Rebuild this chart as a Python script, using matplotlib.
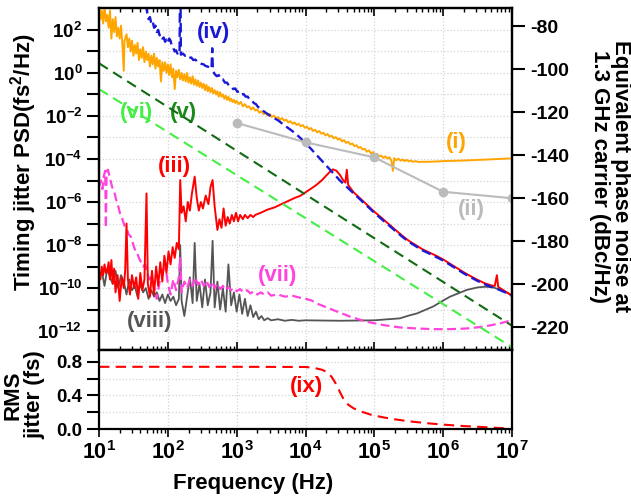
import numpy as np
import matplotlib
matplotlib.use('Agg')
import matplotlib.pyplot as plt
from matplotlib.ticker import FixedLocator, FuncFormatter, NullFormatter, LogLocator

plt.rcParams['font.family'] = 'Liberation Sans'
plt.rcParams['font.weight'] = 'bold'
plt.rcParams['mathtext.fontset'] = 'custom'
plt.rcParams['mathtext.rm'] = 'Liberation Sans:bold'
plt.rcParams['mathtext.it'] = 'Liberation Sans:bold'
plt.rcParams['mathtext.bf'] = 'Liberation Sans:bold'
plt.rcParams['axes.linewidth'] = 1.6
plt.rcParams['axes.unicode_minus'] = False

# timing jitter PSD (fs^2/Hz) -> phase noise (dBc/Hz) of a 1.3 GHz carrier
CARRIER = 1.3e9
DBC_OFFSET = 10 * np.log10((2 * np.pi * CARRIER * 1e-15) ** 2)

# traces as (log10 f, log10 PSD)
orange = [(1.00, 3.2), (1.02, 2.5), (1.04, 2.9), (1.06, 2.3), (1.08, 3.1), (1.10, 2.4), (1.12, 2.7),
          (1.14, 2.1), (1.16, 2.9), (1.18, 1.6), (1.20, 2.5), (1.22, 1.9), (1.24, 2.6), (1.26, 1.7),
          (1.28, 2.1), (1.30, 1.6), (1.32, 2.2), (1.34, 1.3), (1.36, 0.1), (1.37, 1.5), (1.40, 1.8),
          (1.42, 1.2), (1.44, 1.6), (1.46, 1.0), (1.48, 1.5), (1.50, 0.8), (1.52, 1.3), (1.54, 0.9),
          (1.56, 1.4), (1.58, 0.6), (1.60, 1.1), (1.62, 0.7), (1.64, 1.2), (1.66, 0.5), (1.68, 1.0),
          (1.70, 0.6), (1.72, 0.9), (1.74, 0.3), (1.76, 0.8), (1.78, 0.4), (1.80, 0.9), (1.82, 0.2),
          (1.84, 0.7), (1.86, 0.3), (1.88, 0.6), (1.90, -0.4), (1.92, 0.5), (1.94, 0.1), (1.96, 0.5),
          (1.98, 0.0), (2.00, 0.4), (2.02, -0.1), (2.04, 0.4), (2.06, -0.2), (2.08, 0.2), (2.10, -0.75),
          (2.12, 0.1), (2.14, -0.2), (2.16, 0.15), (2.18, -0.3), (2.20, 0.0), (2.22, -0.35), (2.24, -0.05),
          (2.26, -0.4), (2.28, 0.0), (2.30, -0.45), (2.32, -0.2), (2.34, -0.5), (2.36, -0.15), (2.38, -0.55),
          (2.40, -0.3), (2.42, -0.6), (2.44, -0.35), (2.46, -0.65), (2.48, -0.45), (2.50, -0.7), (2.52, -0.5),
          (2.54, -0.8), (2.56, -0.55), (2.58, -0.85), (2.60, -0.65), (2.62, -0.9), (2.64, -0.7), (2.66, -0.95),
          (2.68, -0.8), (2.70, -1.0), (2.72, -0.85), (2.74, -1.1), (2.76, -0.9), (2.78, -1.1), (2.80, -1.0),
          (2.82, -1.2), (2.84, -1.05), (2.86, -1.25), (2.88, -1.1), (2.90, -1.3), (2.92, -1.2), (2.94, -1.35),
          (2.96, -1.25), (2.98, -1.4), (3.00, -1.3), (3.03, -1.45), (3.06, -1.35), (3.09, -1.55), (3.12, -1.45),
          (3.15, -1.6), (3.18, -1.55), (3.21, -1.7), (3.24, -1.6), (3.27, -1.75), (3.30, -1.7), (3.33, -1.85),
          (3.36, -1.78), (3.39, -1.92), (3.42, -1.85), (3.45, -1.98), (3.48, -1.9), (3.51, -2.05), (3.54, -1.98),
          (3.57, -2.1), (3.60, -2.05), (3.63, -2.18), (3.66, -2.1), (3.69, -2.22), (3.72, -2.17), (3.75, -2.3),
          (3.78, -2.24), (3.81, -2.36), (3.84, -2.3), (3.87, -2.42), (3.90, -2.36), (3.93, -2.48), (3.96, -2.42),
          (3.99, -2.55), (4.02, -2.5), (4.05, -2.62), (4.08, -2.56), (4.11, -2.7), (4.14, -2.64), (4.17, -2.76),
          (4.20, -2.7), (4.23, -2.82), (4.26, -2.78), (4.29, -2.9), (4.32, -2.84), (4.35, -2.96), (4.38, -2.92),
          (4.41, -3.04), (4.44, -2.98), (4.47, -3.1), (4.50, -3.05), (4.53, -3.18), (4.56, -3.12), (4.59, -3.25),
          (4.62, -3.2), (4.65, -3.32), (4.68, -3.28), (4.71, -3.4), (4.74, -3.36), (4.77, -3.48), (4.80, -3.44),
          (4.83, -3.56), (4.86, -3.52), (4.89, -3.66), (4.92, -3.6), (4.95, -3.74), (4.98, -3.68), (5.01, -3.8),
          (5.04, -3.76), (5.07, -3.88), (5.10, -3.84), (5.13, -3.95), (5.16, -3.88), (5.19, -3.98), (5.22, -3.92),
          (5.25, -4.1), (5.27, -4.55), (5.29, -3.96), (5.32, -4.06), (5.35, -3.98), (5.38, -4.08), (5.41, -4.02),
          (5.44, -4.1), (5.47, -4.04), (5.50, -4.11), (5.53, -4.07), (5.56, -4.13), (5.60, -4.1), (5.65, -4.14),
          (5.70, -4.13), (5.80, -4.13), (6.00, -4.1), (6.30, -4.07), (6.60, -4.03), (7.00, -3.97)]

blue = [(1.68, 3.2), (1.70, 2.8), (1.72, 2.5), (1.74, 2.6), (1.76, 2.3), (1.78, 2.4), (1.80, 2.1), (1.82, 2.2),
        (1.84, 1.9), (1.86, 2.0), (1.88, 1.75), (1.90, 1.8), (1.92, 1.6), (1.94, 1.65), (1.96, 1.45),
        (1.98, 1.55), (2.00, 1.4), (2.02, 1.6), (2.04, 1.5), (2.06, 1.2), (2.08, 1.15), (2.10, 1.0),
        (2.12, 1.05), (2.14, 0.9), (2.16, 0.95), (2.17, 0.9), (2.175, 3.3), (2.185, 3.3), (2.19, 0.85),
        (2.22, 0.9), (2.25, 0.8), (2.28, 0.82), (2.31, 0.7), (2.34, 0.72), (2.37, 0.6), (2.40, 0.62),
        (2.43, 0.52), (2.46, 0.5), (2.49, 0.42), (2.52, 0.4), (2.55, 0.32), (2.58, 0.3), (2.61, 0.22),
        (2.635, 0.2), (2.645, 1.15), (2.655, 0.1), (2.68, -0.05), (2.71, -0.15), (2.74, -0.1), (2.77, -0.3),
        (2.80, -0.3), (2.83, -0.45), (2.86, -0.45), (2.89, -0.6), (2.92, -0.62), (2.95, -0.75), (2.98, -0.72),
        (3.01, -0.88), (3.04, -0.85), (3.07, -1.0), (3.10, -0.98), (3.13, -1.1), (3.16, -1.1), (3.19, -1.25),
        (3.22, -1.28), (3.25, -1.4), (3.28, -1.45), (3.31, -1.58), (3.34, -1.62), (3.37, -1.72), (3.40, -1.8),
        (3.5, -2.02), (3.6, -2.2), (3.7, -2.45), (3.8, -2.68), (3.9, -2.95), (4.0, -3.25), (4.1, -3.6),
        (4.2, -3.95), (4.3, -4.3), (4.4, -4.65), (4.5, -5.0), (4.6, -5.3), (4.7, -5.6), (4.8, -5.9),
        (4.9, -6.2), (5.0, -6.5), (5.1, -6.78), (5.2, -7.05), (5.3, -7.33), (5.4, -7.6), (5.5, -7.85),
        (5.6, -8.05), (5.7, -8.25), (5.8, -8.4), (5.9, -8.56), (6.0, -8.72), (6.1, -8.92), (6.2, -9.12),
        (6.3, -9.32), (6.4, -9.5), (6.5, -9.67), (6.6, -9.82), (6.7, -9.95), (6.8, -10.06), (6.9, -10.2),
        (7.0, -10.36)]

red = [(1.00, -9.3), (1.02, -9.6), (1.04, -9.0), (1.06, -9.4), (1.08, -8.9), (1.10, -9.3), (1.12, -9.2),
       (1.14, -8.8), (1.16, -9.6), (1.18, -8.7), (1.20, -9.8), (1.22, -9.1), (1.24, -10.2), (1.27, -9.4),
       (1.30, -10.6), (1.33, -9.5), (1.36, -10.0), (1.38, -9.2), (1.40, -7.0), (1.42, -9.6), (1.45, -10.3),
       (1.48, -9.4), (1.51, -10.0), (1.54, -9.5), (1.57, -10.5), (1.60, -9.3), (1.63, -10.1), (1.66, -9.6),
       (1.69, -5.6), (1.71, -9.8), (1.74, -10.4), (1.77, -9.2), (1.80, -10.3), (1.83, -9.0), (1.86, -9.9),
       (1.89, -8.8), (1.92, -9.7), (1.95, -8.5), (1.98, -9.3), (2.01, -8.3), (2.04, -8.9), (2.07, -8.1),
       (2.10, -8.6), (2.13, -7.9), (2.16, -8.2), (2.18, -4.98), (2.20, -6.5), (2.23, -6.2), (2.26, -6.9),
       (2.29, -6.0), (2.32, -6.4), (2.35, -5.6), (2.39, -4.82), (2.42, -5.8), (2.45, -6.4), (2.48, -6.0),
       (2.51, -6.3), (2.55, -5.7), (2.59, -6.1), (2.62, -5.3), (2.65, -4.98), (2.68, -6.2), (2.72, -7.3),
       (2.75, -6.8), (2.78, -7.2), (2.81, -6.3), (2.84, -7.1), (2.87, -6.7), (2.90, -7.0), (2.93, -6.6),
       (2.96, -6.9), (2.99, -6.5), (3.02, -6.9), (3.05, -6.6), (3.09, -6.8), (3.12, -6.6), (3.16, -6.75),
       (3.20, -6.6), (3.24, -6.7), (3.27, -6.6), (3.35, -6.5), (3.45, -6.35), (3.55, -6.25), (3.65, -6.1),
       (3.75, -5.95), (3.85, -5.8), (3.92, -5.72), (4.00, -5.55), (4.08, -5.38), (4.16, -5.2), (4.24, -4.98),
       (4.31, -4.74), (4.36, -4.58), (4.40, -4.48), (4.45, -4.55), (4.50, -4.74), (4.55, -5.0), (4.58, -5.1),
       (4.60, -4.5), (4.62, -5.2), (4.66, -5.38), (4.70, -5.55), (4.8, -5.85), (4.9, -6.15), (5.0, -6.45),
       (5.1, -6.72), (5.2, -7.0), (5.3, -7.28), (5.4, -7.55), (5.5, -7.8), (5.6, -8.0), (5.7, -8.2),
       (5.8, -8.35), (5.9, -8.5), (6.0, -8.67), (6.1, -8.87), (6.2, -9.07), (6.3, -9.27), (6.4, -9.45),
       (6.5, -9.62), (6.6, -9.77), (6.7, -9.88), (6.75, -9.9), (6.78, -9.4), (6.80, -9.95), (6.9, -10.15),
       (7.0, -10.36)]

magenta = [(1.00, -5.3), (1.03, -5.0), (1.05, -5.4), (1.07, -4.8), (1.09, -4.55), (1.10, -7.2), (1.11, -4.6),
           (1.13, -4.5), (1.16, -4.9), (1.19, -5.3), (1.22, -5.5), (1.25, -5.9), (1.28, -6.2), (1.31, -6.6),
           (1.34, -6.8), (1.37, -7.1), (1.40, -7.2), (1.43, -7.5), (1.46, -7.6), (1.49, -7.9), (1.52, -8.2),
           (1.55, -8.3), (1.58, -8.6), (1.61, -8.8), (1.64, -9.0), (1.67, -8.9), (1.70, -9.3), (1.73, -9.6),
           (1.76, -9.5), (1.80, -10.0), (1.84, -10.5), (1.88, -9.7), (1.92, -9.4), (1.96, -8.8), (2.00, -9.8),
           (2.04, -10.3), (2.08, -9.6), (2.12, -10.1), (2.16, -9.5), (2.18, -8.6), (2.20, -10.2), (2.24, -9.7),
           (2.28, -10.0), (2.32, -9.6), (2.36, -9.9), (2.40, -9.5), (2.44, -9.85), (2.48, -9.6), (2.52, -9.9),
           (2.56, -9.65), (2.60, -9.95), (2.64, -9.7), (2.68, -10.0), (2.72, -9.8), (2.76, -10.05), (2.80, -9.9),
           (2.84, -10.1), (2.88, -9.95), (2.92, -10.1), (2.96, -10.0), (3.00, -10.15), (3.05, -10.05),
           (3.10, -10.2), (3.15, -10.1), (3.20, -10.25), (3.25, -10.15), (3.30, -10.3), (3.35, -10.2),
           (3.40, -10.3), (3.45, -10.2), (3.50, -10.35), (3.60, -10.3), (3.70, -10.4), (3.80, -10.35),
           (3.92, -10.45), (4.00, -10.5), (4.09, -10.58), (4.16, -10.71), (4.40, -11.02), (4.65, -11.33),
           (4.89, -11.57), (5.13, -11.72), (5.37, -11.83), (5.62, -11.88), (5.86, -11.91), (6.10, -11.91),
           (6.34, -11.88), (6.58, -11.80), (6.83, -11.64), (7.0, -11.49)]

darkgray = [(1.00, -9.6), (1.04, -9.2), (1.08, -9.9), (1.12, -9.1), (1.16, -9.5), (1.20, -9.8), (1.24, -9.2),
            (1.28, -10.0), (1.32, -9.4), (1.36, -9.7), (1.40, -10.3), (1.44, -9.6), (1.48, -10.1), (1.52, -9.9),
            (1.56, -10.4), (1.60, -9.8), (1.64, -10.2), (1.68, -10.0), (1.72, -10.5), (1.76, -10.1),
            (1.80, -10.4), (1.84, -10.2), (1.88, -10.6), (1.92, -10.3), (1.96, -10.7), (2.00, -10.3),
            (2.04, -10.6), (2.08, -10.4), (2.12, -10.8), (2.16, -10.5), (2.18, -8.0), (2.20, -10.6),
            (2.24, -11.3), (2.28, -10.4), (2.32, -9.5), (2.36, -10.7), (2.39, -7.9), (2.42, -10.6), (2.46, -9.8),
            (2.50, -10.9), (2.54, -9.6), (2.58, -10.8), (2.62, -10.2), (2.65, -7.8), (2.68, -10.9), (2.72, -9.7),
            (2.76, -11.0), (2.80, -10.0), (2.84, -11.1), (2.88, -8.9), (2.92, -10.8), (2.96, -10.2),
            (3.00, -11.1), (3.04, -10.3), (3.08, -11.2), (3.12, -10.5), (3.16, -11.3), (3.20, -10.8),
            (3.24, -11.35), (3.28, -11.1), (3.32, -11.45), (3.36, -11.3), (3.40, -11.5), (3.45, -11.4),
            (3.50, -11.5), (3.60, -11.45), (3.70, -11.52), (3.80, -11.48), (3.90, -11.52), (4.00, -11.5),
            (4.50, -11.52), (5.00, -11.5), (5.20, -11.45), (5.37, -11.41), (5.50, -11.28), (5.62, -11.18),
            (5.75, -11.0), (5.86, -10.85), (6.00, -10.58), (6.10, -10.40), (6.34, -10.09), (6.50, -9.97),
            (6.60, -9.94), (6.72, -9.96), (6.90, -10.17), (7.00, -10.33)]

# straight reference slopes (v) and (vi): end points at 10 Hz and 10 MHz
green_v = [(1.0, 0.45), (7.0, -11.75)]
green_vi = [(1.0, -0.75), (7.0, -12.75)]

# (ii) measured points, given in dBc/Hz
gray_f = [1e3, 1e4, 1e5, 1e6, 1e7]
gray_dbc = [-125, -134, -141, -157, -160]

# (ix) integrated RMS jitter (fs) vs log10 f
rms = [(1.0, 0.74), (2.0, 0.74), (3.0, 0.74), (4.0, 0.738), (4.12, 0.728), (4.24, 0.705), (4.32, 0.675),
       (4.38, 0.62), (4.44, 0.54), (4.50, 0.44), (4.55, 0.36), (4.62, 0.29), (4.70, 0.245), (4.82, 0.205),
       (4.95, 0.17), (5.12, 0.14), (5.3, 0.115), (5.5, 0.092), (5.75, 0.07), (6.0, 0.052), (6.3, 0.035),
       (6.6, 0.022), (6.85, 0.01), (7.0, 0.0)]

labels = [('(i)', 6.19, -3.21, '#ffa500'), ('(ii)', 6.41, -6.37, '#bbbbbb'), ('(iii)', 2.09, -4.36, '#ff0000'),
          ('(iv)', 2.66, 1.86, '#1a1ad6'), ('(v)', 2.22, -1.86, '#1a8a1a'), ('(vi)', 1.55, -1.86, '#44ee44'),
          ('(vii)', 3.59, -9.4, '#ff44dd'), ('(viii)', 1.74, -11.57, '#555555')]


def trace(points):
    lf, lp = np.array(points).T
    return 10 ** lf, 10 ** lp


LOGMIN, LOGMAX = -12.88, 3.02

fig = plt.figure(figsize=(6.31, 4.99), dpi=100)
ax = fig.add_axes([99 / 631, 1 - 350 / 499, 413 / 631, 342 / 499])
axb = fig.add_axes([99 / 631, 1 - 429 / 499, 413 / 631, 79 / 499], sharex=ax)
ax2 = ax.twinx()

ax.plot(*trace(darkgray), color='#555555', lw=1.3, zorder=3)
ax.plot(*trace(magenta), color='#ff44dd', lw=1.6, ls=(0, (4, 2)), zorder=3)
ax.plot(*trace(red), color='#ff0000', lw=1.4, zorder=4)
ax.plot(*trace(orange), color='#ffa500', lw=1.4, zorder=4)
ax.plot(*trace(blue), color='#1a1ad6', lw=1.7, ls=(0, (4, 2)), zorder=5)
ax.plot(*trace(green_v), color='#126b12', lw=1.5, ls=(0, (5, 3)), zorder=5)
ax.plot(*trace(green_vi), color='#44ee44', lw=1.5, ls=(0, (5, 3)), zorder=5)
gray_psd = 10 ** ((np.array(gray_dbc) - DBC_OFFSET) / 10)
ax.plot(gray_f, gray_psd, color='#bbbbbb', lw=1.5, marker='o', ms=6, zorder=5)

for txt, lf, lp, c in labels:
    ax.text(10 ** lf, 10 ** lp, txt, color=c, fontsize=16, fontweight='bold', ha='center', va='center')

ax.set_xscale('log')
ax.set_yscale('log')
ax.set_xlim(10, 1e7)
ax.set_ylim(10 ** LOGMIN, 10 ** LOGMAX)
ax.yaxis.set_major_locator(FixedLocator([10.0 ** e for e in range(-12, 3, 2)]))
ax.yaxis.set_minor_locator(FixedLocator([10.0 ** e for e in range(-11, 3, 2)]))
ax.yaxis.set_major_formatter(FuncFormatter(lambda v, p: r'$10^{%d}$' % round(np.log10(v))))
ax.yaxis.set_minor_formatter(NullFormatter())
ax.xaxis.set_major_locator(LogLocator(base=10, numticks=10))
ax.xaxis.set_minor_locator(LogLocator(base=10, subs=np.arange(2, 10), numticks=20))
ax.tick_params(axis='x', which='both', direction='in', top=True, labelbottom=False)
ax.tick_params(axis='x', which='major', length=6, width=1.2)
ax.tick_params(axis='x', which='minor', length=3, width=1)
ax.tick_params(axis='y', which='both', direction='out', length=9, width=1.5, labelsize=13.5, pad=3)
ax.grid(True, which='major', color='#d4d4d4', ls=':', lw=0.9)
ax.yaxis.grid(True, which='minor', color='#d4d4d4', ls=':', lw=0.9)

ax2.set_ylim(10 * LOGMIN + DBC_OFFSET, 10 * LOGMAX + DBC_OFFSET)
ax2.set_yticks(np.arange(-220, -79, 20))
ax2.tick_params(axis='y', direction='out', length=9, width=1.5, labelsize=14, pad=4)

rms_lf, rms_val = np.array(rms).T
axb.plot(10 ** rms_lf, rms_val, color='#ff0000', lw=1.5, ls=(0, (5, 3)))
axb.set_ylim(0, 0.94)
axb.set_yticks([0.0, 0.4, 0.8])
axb.yaxis.set_minor_locator(FixedLocator([0.2, 0.6]))
axb.yaxis.set_major_formatter(FuncFormatter(lambda v, p: '%.1f' % v))
axb.xaxis.set_major_formatter(FuncFormatter(lambda v, p: r'$10^{%d}$' % round(np.log10(v))))
axb.tick_params(axis='x', which='both', direction='out', top=False, labelsize=15.5, pad=3)
axb.tick_params(axis='x', which='major', length=6, width=1.2)
axb.tick_params(axis='x', which='minor', length=3, width=1)
axb.tick_params(axis='y', which='both', direction='out', length=9, width=1.5, labelsize=13.5, pad=3)
axb.grid(True, which='major', color='#d4d4d4', ls=':', lw=0.9)
axb.yaxis.grid(True, which='minor', color='#d4d4d4', ls=':', lw=0.9)
axb.text(10 ** 4.02, 0.5, '(ix)', color='#ff0000', fontsize=16, fontweight='bold', ha='center', va='center')

fig.text(23.5 / 631, 1 - 162 / 499, 'Timing jitter PSD(fs$^2$/Hz)', rotation=90, fontsize=16,
         fontweight='bold', ha='center', va='center')
fig.text(610 / 631, 1 - 176 / 499, 'Equivalent phase noise at\n1.3 GHz carrier (dBc/Hz)', rotation=270,
         fontsize=16, fontweight='bold', ha='center', va='center', multialignment='center', linespacing=1.0)
fig.text(24 / 631, 1 - 395 / 499, 'RMS\njitter (fs)', rotation=90, fontsize=16, fontweight='bold',
         ha='center', va='center', multialignment='center', linespacing=1.0)
fig.text(253.5 / 631, 1 - 483 / 499, 'Frequency (Hz)', fontsize=16, fontweight='bold', ha='center', va='center')

fig.savefig('out.png', dpi=100)
